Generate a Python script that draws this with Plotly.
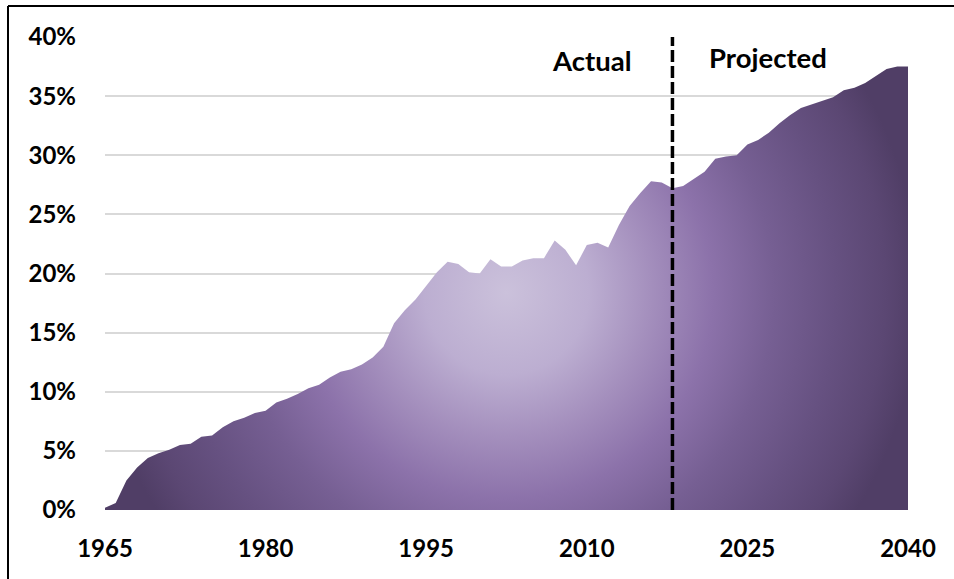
import plotly.graph_objects as go

years = list(range(1965, 2041))
share_pct = [
    0.2, 0.6, 2.5, 3.6, 4.4, 4.8, 5.1, 5.5, 5.6, 6.2,
    6.3, 7.0, 7.5, 7.8, 8.2, 8.4, 9.1, 9.4, 9.8, 10.3,
    10.6, 11.2, 11.7, 11.9, 12.3, 12.9, 13.8, 15.8, 16.9, 17.8,
    19.0, 20.1, 21.0, 20.8, 20.1, 20.0, 21.2, 20.6, 20.6, 21.1,
    21.3, 21.3, 22.8, 22.0, 20.7, 22.4, 22.6, 22.2, 24.1, 25.7,
    26.8, 27.8, 27.7, 27.2, 27.4, 28.0, 28.6, 29.7, 29.9, 30.0,
    30.9, 31.3, 31.9, 32.7, 33.4, 34.0, 34.3, 34.6, 34.9, 35.5,
    35.7, 36.1, 36.7, 37.3, 37.5, 37.5,
]
x_tick_vals = [1965, 1980, 1995, 2010, 2025, 2040]
y_tick_vals = [0, 5, 10, 15, 20, 25, 30, 35, 40]
y_tick_text = ["0%", "5%", "10%", "15%", "20%", "25%", "30%", "35%", "40%"]
divider_year = 2018
label_actual = "Actual"
label_projected = "Projected"

FONT = "Lato"
W, H = 954, 579
L, R, T, B = 105, 46, 37, 69
pw, ph = W - L - R, H - T - B
X_RANGE = [1965, 2040]
Y_RANGE = [0, 40]

# --- radial gradient geometry (styling): make the fill's bounding box a square in
# pixels so the SVG radial gradient is circular and centred where the original's is.
x_per_px = (X_RANGE[1] - X_RANGE[0]) / pw
y_per_px = (Y_RANGE[1] - Y_RANGE[0]) / ph
x_pad = 1.0                                   # outside the x range -> clipped away
half_w_px = ((X_RANGE[1] - X_RANGE[0]) / 2 + x_pad) / x_per_px
grad_center_y = 18.4                          # where the lightest spot sits
half_h = half_w_px * y_per_px
y_low, y_high = grad_center_y - half_h, grad_center_y + half_h
poly_x = [X_RANGE[0] - x_pad] + years + [X_RANGE[1] + x_pad, X_RANGE[1] + x_pad, X_RANGE[0] - x_pad]
poly_y = [y_low] + share_pct + [y_high, y_low, y_low]

fig = go.Figure()
fig.add_trace(go.Scatter(
    x=poly_x, y=poly_y, mode="lines", line=dict(width=0),
    fill="toself",
    fillgradient=dict(type="radial", colorscale=[
        [0.0, "#cbc1db"], [0.2, "#bcaed1"], [0.35, "#a48fbd"], [0.5, "#8c72aa"],
        [0.65, "#765f93"], [0.8, "#665181"], [0.92, "#5b4773"], [1.0, "#503e66"]]),
    hoverinfo="skip", showlegend=False,
))

fig.add_shape(type="line", x0=divider_year, x1=divider_year, y0=0, y1=40,
              xref="x", yref="y", line=dict(color="black", width=3.5, dash="12px,4px"))

fig.add_annotation(x=2010.5, y=38.0, xref="x", yref="y", text=label_actual, showarrow=False,
                   font=dict(family=FONT, size=27.5, color="black", weight="bold"))
fig.add_annotation(x=2026.9, y=38.25, xref="x", yref="y", text=label_projected, showarrow=False,
                   font=dict(family=FONT, size=27.5, color="black", weight="bold"))

# frame lines of the original figure box
def px(x): return (x - L) / pw
def py(y): return (H - B - y) / ph
fig.add_shape(type="line", xref="paper", yref="paper", x0=px(8), x1=px(960), y0=py(6), y1=py(6),
              line=dict(color="black", width=2))
fig.add_shape(type="line", xref="paper", yref="paper", x0=px(8), x1=px(8), y0=py(6), y1=py(590),
              line=dict(color="black", width=2))

fig.update_layout(
    width=W, height=H,
    margin=dict(l=L, r=R, t=T, b=B, pad=0),
    paper_bgcolor="white", plot_bgcolor="white",
    font=dict(family=FONT, size=24, color="black"),
    xaxis=dict(range=X_RANGE, tickvals=x_tick_vals, showgrid=False, zeroline=False,
               showline=False, ticks="", ticklabelstandoff=22,
               tickfont=dict(family=FONT, size=24, color="black", weight="bold")),
    yaxis=dict(range=Y_RANGE, tickvals=y_tick_vals, ticktext=y_tick_text, showgrid=True,
               gridcolor="#d9d9d9", gridwidth=1.5, zeroline=False, showline=False, ticks="",
               ticklabelstandoff=28,
               tickfont=dict(family=FONT, size=24, color="black", weight="bold")),
)

fig.write_html("out.html", config={"displayModeBar": False},
               post_script="document.body.style.margin='0';document.body.style.overflow='hidden';")
